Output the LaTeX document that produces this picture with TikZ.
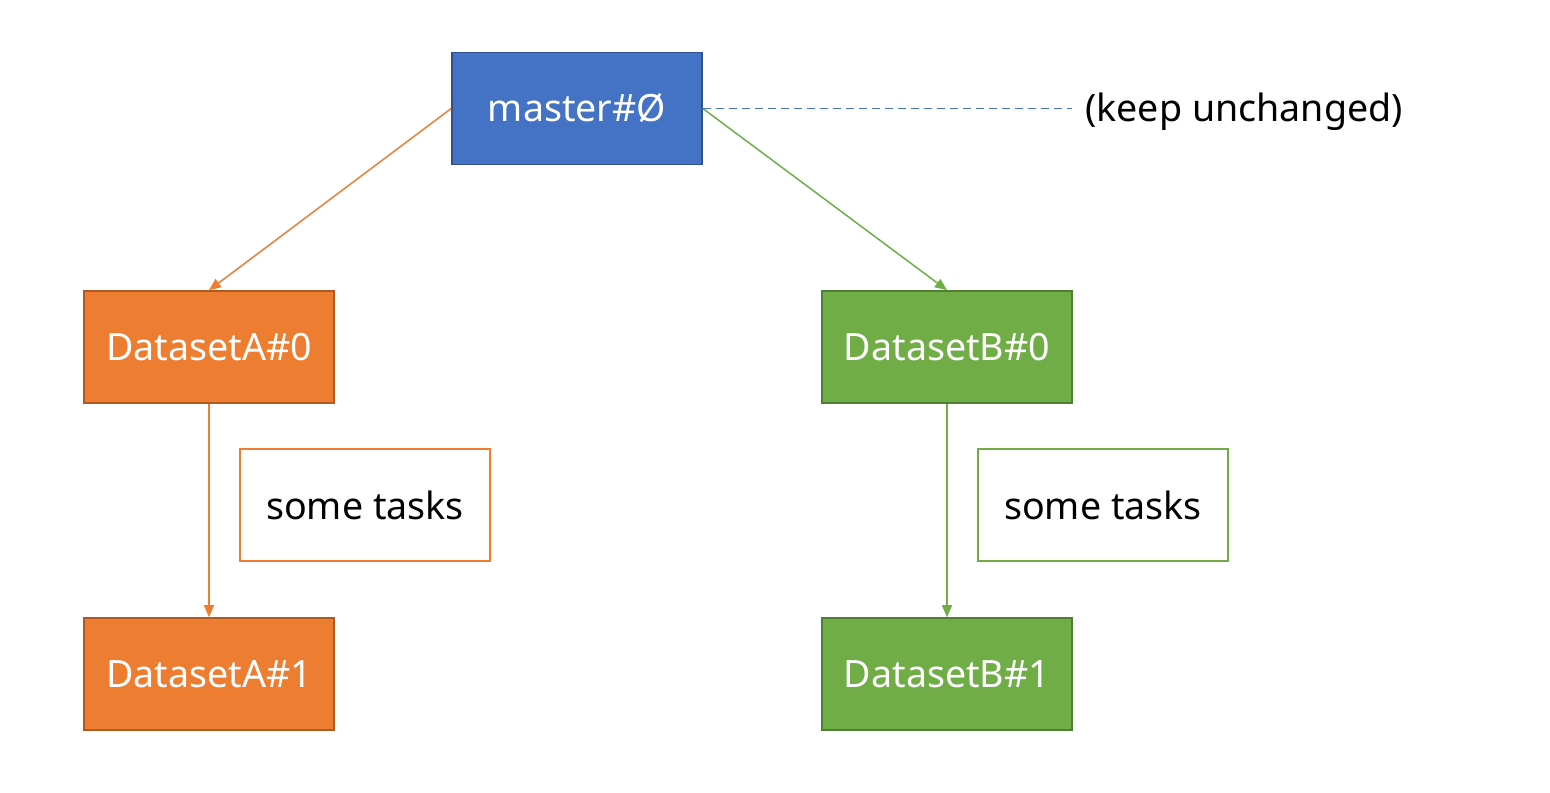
\documentclass[tikz,border=0pt]{standalone}
\usepackage{fontspec}
\setmainfont{Noto Sans}
\usetikzlibrary{arrows.meta}
\definecolor{cblue}{HTML}{4472C4}
\definecolor{cblueD}{HTML}{2F528F}
\definecolor{corange}{HTML}{ED7D31}
\definecolor{corangeD}{HTML}{AE5A21}
\definecolor{cgreen}{HTML}{70AD47}
\definecolor{cgreenD}{HTML}{507E32}
\tikzset{
  box/.style={rectangle, minimum width=125pt, minimum height=56pt, inner sep=0pt, text=white, font=\fontsize{18.8}{22}\selectfont, line width=0.8pt},
  bluebox/.style={box, fill=cblue, draw=cblueD},
  orangebox/.style={box, fill=corange, draw=corangeD},
  greenbox/.style={box, fill=cgreen, draw=cgreenD},
  taskbox/.style={rectangle, minimum width=125pt, minimum height=56pt, inner sep=0pt, fill=white, text=black, font=\fontsize{18.8}{22}\selectfont, line width=0.8pt},
  conn/.style={line width=0.75pt, -{Triangle[length=6pt,width=5pt]}},
}
\begin{document}
\begin{tikzpicture}[x=0.5pt,y=-0.5pt]
\useasboundingbox (0,0) rectangle (1550,792);
\node[bluebox] (m) at (577,108.5) {master\#Ø};
\node[orangebox] (a0) at (209,347) {DatasetA\#0};
\node[orangebox] (a1) at (209,674) {DatasetA\#1};
\node[greenbox] (b0) at (947,347) {DatasetB\#0};
\node[greenbox] (b1) at (947,674) {DatasetB\#1};
\node[taskbox, draw=corange] (ta) at (365,505) {some tasks};
\node[taskbox, draw=cgreen] (tb) at (1103,505) {some tasks};
\node[anchor=west, inner sep=0pt, font=\fontsize{18.8}{22}\selectfont] (k) at (1085,112) {(keep unchanged)};
\draw[conn, corange] (m.west) -- (a0.north);
\draw[conn, cgreen] (m.east) -- (b0.north);
\draw[conn, corange] (a0.south) -- (a1.north);
\draw[conn, cgreen] (b0.south) -- (b1.north);
\draw[cblue, line width=0.8pt, dash pattern=on 4pt off 2.5pt] (m.east) -- (1072,108.5);
\end{tikzpicture}
\end{document}
